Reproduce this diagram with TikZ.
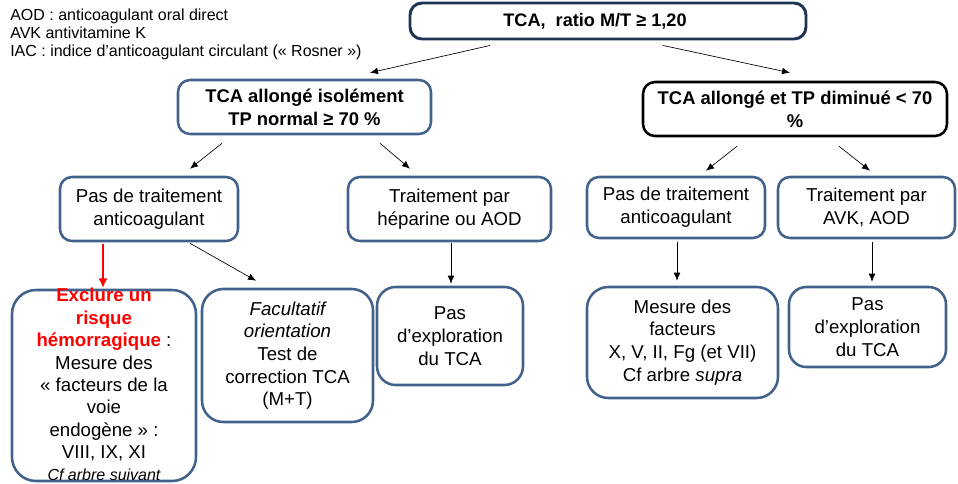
\documentclass[tikz,border=0pt]{standalone}
\usepackage{fontspec}
\setmainfont{Liberation Sans}
\usepackage{tikz}
\usetikzlibrary{arrows.meta,calc,positioning}

\definecolor{boxblue}{RGB}{66,98,140}
\definecolor{topnavy}{RGB}{30,52,84}

\tikzset{
  box/.style={draw=boxblue, line width=1.9pt, rounded corners=9pt, align=center,
    inner sep=0pt, font=\fontsize{14}{17}\selectfont},
  headbox/.style={box, font=\fontsize{13.8}{17.2}\selectfont\bfseries},
  arr/.style={-{Latex[length=6pt,width=5pt]}, line width=0.5pt},
  redarr/.style={-{Latex[length=7pt,width=7pt]}, line width=1.8pt, red},
}

\begin{document}
\begin{tikzpicture}[x=0.75pt,y=-0.75pt]
\useasboundingbox (0,0) rectangle (958,483);

% legende
\node[anchor=west, align=left, inner sep=0pt, font=\fontsize{12}{13.5}\selectfont] (legend) at (10,34)
  {AOD : anticoagulant oral direct\\AVK antivitamine K\\IAC : indice d’anticoagulant circulant (« Rosner »)};

% niveau 1
\node[headbox, draw=topnavy, line width=2.2pt, minimum width=297pt, minimum height=27pt] (tca) at (608,21) {};
\node[inner sep=0pt, font=\fontsize{13.6}{17}\selectfont\bfseries] (tcaTxt) at (595,21)
  {TCA,\ \ ratio M/T ≥ 1,20};

% niveau 2
\node[headbox, minimum width=189.75pt, minimum height=40.5pt] (isole) at (304.5,107)
  {TCA allongé isolément\\TP normal ≥ 70 \%};
\node[headbox, draw=black, minimum width=228pt, minimum height=40.5pt] (diminue) at (795,109)
  {TCA allongé et TP diminué < 70\\\%};

% niveau 3
\node[box, minimum width=133.5pt, minimum height=48pt] (pasL) at (149,209)
  {Pas de traitement\\anticoagulant};
\node[box, minimum width=152.25pt, minimum height=48pt] (hepar) at (449.5,209)
  {Traitement par\\héparine ou AOD};
\node[box, minimum width=133.5pt, minimum height=45.75pt] (pasR) at (676,207.5)
  {Pas de traitement\\anticoagulant};
\node[box, minimum width=132.75pt, minimum height=45.75pt] (avk) at (866.5,207.5)
  {Traitement par\\AVK, AOD};

% niveau 4
\node[box, rounded corners=18pt, minimum width=138pt, minimum height=143.25pt] (exclure) at (104,385.5) {};
\node[align=center, anchor=north, inner sep=0pt, font=\fontsize{14}{16.8}\selectfont] (exclTxt) at (104,288)
  {{\color{red}\bfseries Exclure un}\\
   {\color{red}\bfseries risque}\\
   {\color{red}\bfseries hémorragique} :\\
   Mesure des\\
   « facteurs de la\\
   voie\\
   endogène » :\\
   VIII, IX, XI\\
   {\fontsize{12}{16.8}\selectfont\itshape Cf arbre suivant}};
\node[box, rounded corners=16pt, minimum width=128.25pt, minimum height=99.75pt] (facult) at (287.5,355.5)
  {\itshape Facultatif\\\itshape orientation\\Test de\\correction TCA\\(M+T)};
\node[box, rounded corners=14pt, minimum width=109.5pt, minimum height=73.5pt] (explL) at (450,336)
  {Pas\\d’exploration\\du TCA};
\node[box, rounded corners=16pt, minimum width=143.25pt, minimum height=83.25pt] (mesure) at (682.5,342.5)
  {Mesure des\\facteurs\\X, V, II, Fg (et VII)\\Cf arbre \textit{supra}};
\node[box, rounded corners=13pt, minimum width=117.75pt, minimum height=60pt] (explR) at (867.5,327)
  {Pas\\d’exploration\\du TCA};

% fleches
\draw[arr] ($(tca.south)+(-118,5)$) -- ($(isole.north)+(65.5,-6)$);
\draw[arr] ($(tca.south)+(55,5)$) -- ($(diminue.north)+(-5,-8)$);
\draw[arr] ($(isole.south)+(-82.5,8)$) -- ($(pasL.north)+(41,-7)$);
\draw[arr] ($(isole.south)+(75.5,8)$) -- ($(hepar.north)+(-39.5,-7)$);
\draw[arr] ($(diminue.south)+(-58,9)$) -- ($(pasR.north)+(30,-5)$);
\draw[arr] ($(diminue.south)+(44,9)$) -- ($(avk.north)+(3.5,-5)$);
\draw[redarr] ($(pasL.south)+(-46,2)$) -- ($(exclure.north)+(-1,-1)$);
\draw[arr] ($(pasL.south)+(41,1)$) -- ($(facult.north)+(-31.5,-7)$);
\draw[arr] ($(hepar.south)+(1.5,1)$) -- ($(explL.north)+(1,-2)$);
\draw[arr] ($(pasR.south)+(1,3)$) -- ($(mesure.north)+(-5.5,-5)$);
\draw[arr] ($(avk.south)+(5.5,3)$) -- ($(explR.north)+(4.5,-4)$);
\end{tikzpicture}
\end{document}
